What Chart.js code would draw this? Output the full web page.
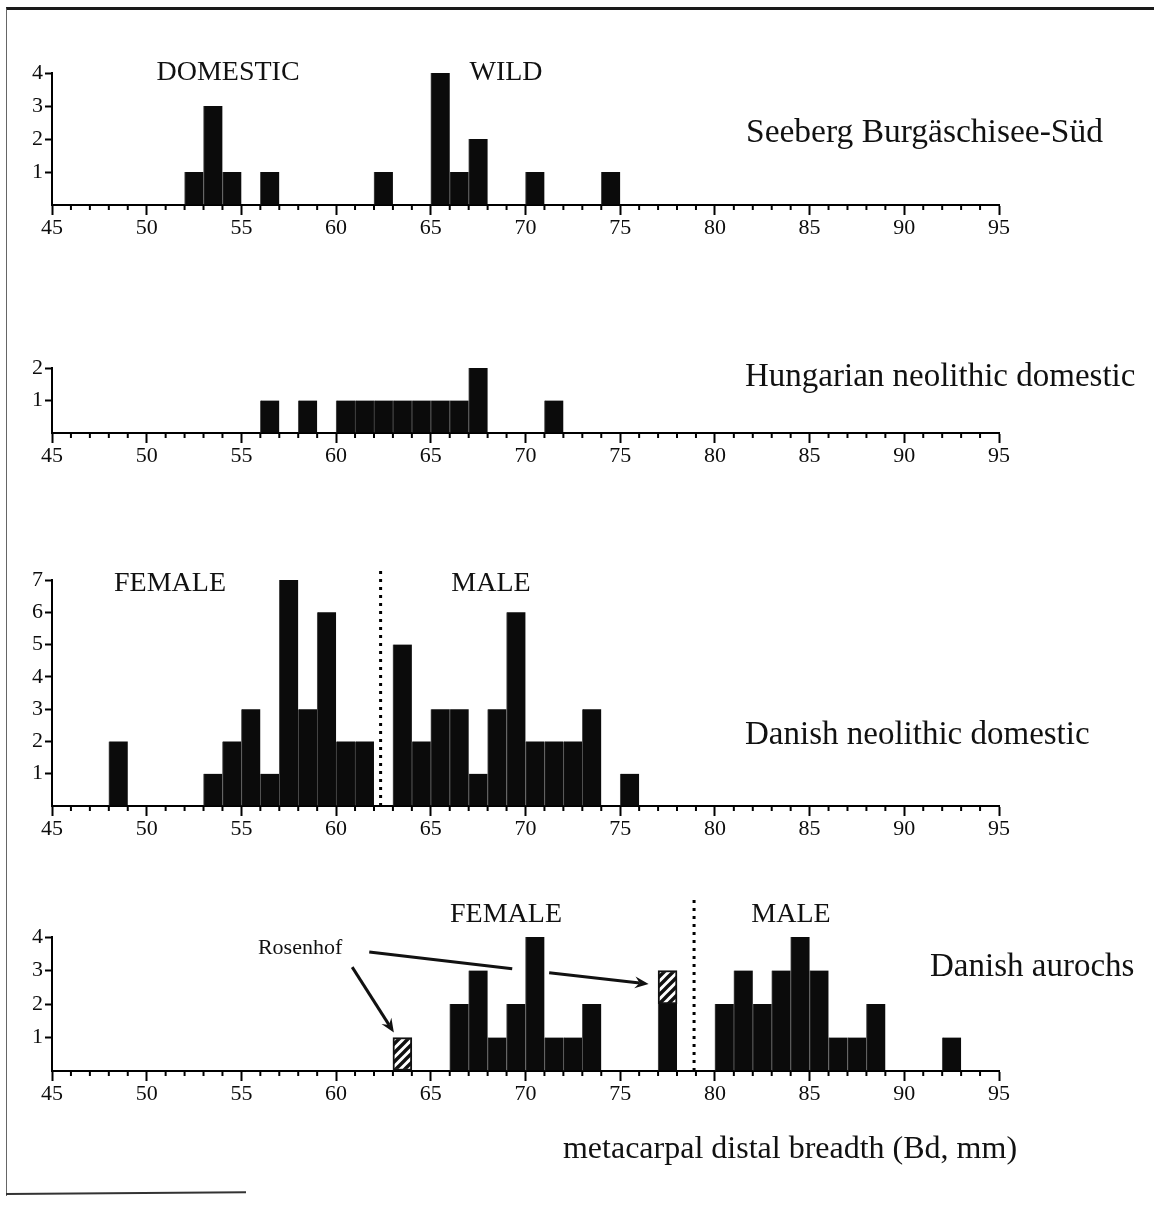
<!DOCTYPE html>
<html><head><meta charset="utf-8">
<script src="https://cdn.jsdelivr.net/npm/chart.js@4/dist/chart.umd.min.js"></script>
<style>
html,body{margin:0;padding:0;background:#fff;}
body{width:1154px;height:1206px;position:relative;overflow:hidden;}
.frame{position:absolute;left:6px;top:7px;width:1170px;height:1186px;border-top:3px solid #1a1a1a;border-left:1px solid #666;}
.bottomline{position:absolute;left:6px;top:1193px;width:240px;height:0;border-top:2px solid #333;transform:rotate(-0.4deg);transform-origin:0 0;}
canvas{position:absolute;left:0;}
</style></head><body>
<div class="frame"></div>
<div class="bottomline"></div>
<canvas id="c1"></canvas>
<canvas id="c2"></canvas>
<canvas id="c3"></canvas>
<canvas id="c4"></canvas>
<script>
// ---------- data ----------
const xTickValues = [45,50,55,60,65,70,75,80,85,90,95];

const seebergBins   = [52,53,54,56,62,65,66,67,70,74];
const seebergCounts = [1,3,1,1,1,4,1,2,1,1];

const hungarianBins   = [56,58,60,61,62,63,64,65,66,67,71];
const hungarianCounts = [1,1,1,1,1,1,1,1,1,2,1];

const danishDomBins   = [48,53,54,55,56,57,58,59,60,61,63,64,65,66,67,68,69,70,71,72,73,75];
const danishDomCounts = [2,1,2,3,1,7,3,6,2,2,5,2,3,3,1,3,6,2,2,2,3,1];

const aurochsBins   = [66,67,68,69,70,71,72,73,77,80,81,82,83,84,85,86,87,88,92];
const aurochsCounts = [2,3,1,2,4,1,1,2,2,2,3,2,3,4,3,1,1,2,1];

const rosenhofBins   = [63,77];
const rosenhofCounts = [1,1];

const danishDomDivider = 62.35;   // female / male boundary
const aurochsDivider   = 78.9;

// ---------- helpers ----------
Chart.defaults.font.family = "'Liberation Serif', 'DejaVu Serif', serif";
Chart.defaults.color = '#111';

function toPoints(bins, counts){ return bins.map((b,i)=>({x:b+0.5, y:counts[i]})); }

function hatchPattern(){
  const n=9;
  const c=document.createElement('canvas'); c.width=n; c.height=n;
  const g=c.getContext('2d');
  g.fillStyle='#fff'; g.fillRect(0,0,n,n);
  g.strokeStyle='#111'; g.lineWidth=3.4;
  g.beginPath();
  g.moveTo(-1,n+1); g.lineTo(n+1,-1);
  g.moveTo(-n/2-1,n/2+1); g.lineTo(n/2+1,-n/2-1);
  g.moveTo(n/2-1,n*1.5+1); g.lineTo(n*1.5+1,n/2-1);
  g.stroke();
  return g.createPattern(c,'repeat');
}

const deco = {
  id:'deco',
  afterDraw(chart, args, o){
    const {ctx, chartArea:a, scales:{x,y}} = chart;
    ctx.save();
    // minor ticks
    ctx.strokeStyle='#000'; ctx.lineWidth=2;
    for(let v=Math.ceil(x.min); v<=x.max; v++){
      if(v%5===0) continue;
      const px=x.getPixelForValue(v);
      ctx.beginPath(); ctx.moveTo(px,a.bottom); ctx.lineTo(px,a.bottom+5); ctx.stroke();
    }
    // divider
    if(o.divider){
      const px=x.getPixelForValue(o.divider.x);
      ctx.setLineDash([3,5]); ctx.lineWidth=3;
      ctx.beginPath(); ctx.moveTo(px,y.getPixelForValue(0)); ctx.lineTo(px,y.getPixelForValue(o.divider.top)); ctx.stroke();
      ctx.setLineDash([]);
    }
    // arrows
    (o.arrows||[]).forEach(ar=>{
      const x1=x.getPixelForValue(ar[0]), y1=y.getPixelForValue(ar[1]);
      const x2=x.getPixelForValue(ar[2]), y2=y.getPixelForValue(ar[3]);
      ctx.lineWidth=3; ctx.strokeStyle='#111'; ctx.fillStyle='#111';
      const ang=Math.atan2(y2-y1,x2-x1);
      const hl = ar[4] ? 15 : 0;
      ctx.beginPath(); ctx.moveTo(x1,y1); ctx.lineTo(x2-Math.cos(ang)*hl*0.6,y2-Math.sin(ang)*hl*0.6); ctx.stroke();
      if(ar[4]){
        ctx.beginPath();
        ctx.moveTo(x2,y2);
        ctx.lineTo(x2-hl*Math.cos(ang-0.4), y2-hl*Math.sin(ang-0.4));
        ctx.lineTo(x2-hl*0.6*Math.cos(ang), y2-hl*0.6*Math.sin(ang));
        ctx.lineTo(x2-hl*Math.cos(ang+0.4), y2-hl*Math.sin(ang+0.4));
        ctx.closePath(); ctx.fill();
      }
    });
    // texts (page coordinates)
    ctx.fillStyle='#111'; ctx.textBaseline='middle';
    (o.texts||[]).forEach(t=>{
      ctx.font = t.size+"px 'Liberation Serif', serif";
      ctx.textAlign = t.align||'center';
      ctx.fillText(t.t, t.x, t.y - o.top);
    });
    // data-anchored texts
    (o.dataTexts||[]).forEach(t=>{
      ctx.font = t.size+"px 'Liberation Serif', serif";
      ctx.textAlign = 'center';
      ctx.fillText(t.t, x.getPixelForValue(t.x), y.getPixelForValue(t.y));
    });
    ctx.restore();
  }
};

function makeChart(id, cfg){
  const cv=document.getElementById(id);
  const height = cfg.padTop + cfg.areaH + cfg.axisH;
  cv.width=1154; cv.height=height;
  cv.style.top=cfg.top+'px'; cv.style.width='1154px'; cv.style.height=height+'px';
  return new Chart(cv, {
    type:'bar',
    data:{datasets:cfg.datasets},
    plugins:[deco],
    options:{
      responsive:false, animation:false, devicePixelRatio:1,
      layout:{padding:{top:cfg.padTop,left:0,right:155,bottom:0}},
      plugins:{legend:{display:false}, tooltip:{enabled:false},
        deco:Object.assign({top:cfg.top}, cfg.deco)},
      scales:{
        x:{type:'linear', min:45, max:95, offset:false, stacked:!!cfg.stacked,
          afterFit:s=>{s.height=cfg.axisH;},
          afterBuildTicks:s=>{s.ticks=xTickValues.map(v=>({value:v}));},
          grid:{display:true, drawOnChartArea:false, drawTicks:true, tickLength:10, tickWidth:2, tickColor:'#000', offset:false},
          border:{display:true, color:'#000', width:2},
          ticks:{font:{size:22}, padding:0, maxRotation:0, autoSkip:false, color:'#0d0d0d'}
        },
        y:{min:0, max:cfg.max, stacked:!!cfg.stacked,
          afterFit:s=>{s.width=52;},
          grid:{display:true, drawOnChartArea:false, drawTicks:true, tickLength:7, tickWidth:2,
            tickColor:c=> (c.tick && c.tick.value===0) ? 'rgba(0,0,0,0)' : '#000'},
          border:{display:true, color:'#000', width:2},
          ticks:{stepSize:1, font:{size:22}, padding:2, color:'#0d0d0d', callback:v=> v===0 ? '' : v}
        }
      }
    }
  });
}

function blackSet(bins, counts){
  return {data:toPoints(bins,counts), backgroundColor:'#0b0b0b', borderColor:'#505050',
    borderWidth:{left:1,right:0,top:0,bottom:0}, borderSkipped:false,
    barPercentage:1, categoryPercentage:1, stack:'s'};
}

// Panel 1
makeChart('c1', {top:40, padTop:33, areaH:132, axisH:60, max:4,
  datasets:[blackSet(seebergBins, seebergCounts)],
  deco:{texts:[
    {t:'DOMESTIC', x:228, y:73, size:28},
    {t:'WILD', x:506, y:73, size:28},
    {t:'Seeberg Burgäschisee-Süd', x:746, y:133, size:33.5, align:'left'}
  ]}
});

// Panel 2
makeChart('c2', {top:340, padTop:28, areaH:65, axisH:60, max:2,
  datasets:[blackSet(hungarianBins, hungarianCounts)],
  deco:{texts:[
    {t:'Hungarian neolithic domestic', x:745, y:377, size:33, align:'left'}
  ]}
});

// Panel 3
makeChart('c3', {top:548, padTop:32, areaH:226, axisH:60, max:7,
  datasets:[blackSet(danishDomBins, danishDomCounts)],
  deco:{divider:{x:danishDomDivider, top:7.4},
    texts:[
    {t:'FEMALE', x:170, y:584, size:28},
    {t:'MALE', x:491, y:584, size:28},
    {t:'Danish neolithic domestic', x:745, y:735, size:33, align:'left'}
  ]}
});

// Panel 4
makeChart('c4', {top:880, padTop:57, areaH:134, axisH:110, max:4, stacked:true,
  datasets:[
    blackSet(aurochsBins, aurochsCounts),
    {data:toPoints(rosenhofBins, rosenhofCounts), backgroundColor:hatchPattern(), borderColor:'#111',
     borderWidth:2, borderSkipped:false, barPercentage:1, categoryPercentage:1, stack:'s'}
  ],
  deco:{divider:{x:aurochsDivider, top:5.2},
    arrows:[
      [60.85,3.1, 63.05,1.15, true],
      [61.75,3.55, 69.3,3.05, false],
      [71.25,2.93, 76.5,2.6, true]
    ],
    dataTexts:[{t:'Rosenhof', x:58.1, y:3.66, size:22}],
    texts:[
    {t:'FEMALE', x:506, y:915, size:28},
    {t:'MALE', x:791, y:915, size:28},
    {t:'Danish aurochs', x:930, y:967, size:33, align:'left'},
    {t:'metacarpal distal breadth (Bd, mm)', x:790, y:1150, size:32}
  ]}
});
</script>
</body></html>
